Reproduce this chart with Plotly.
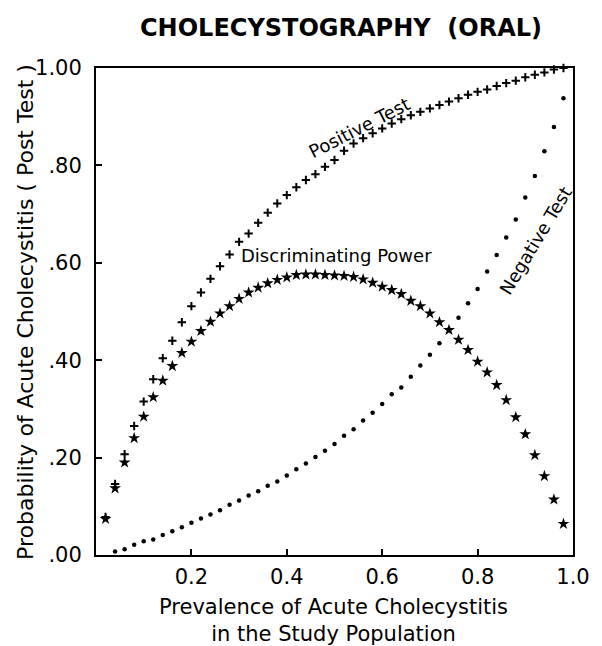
import plotly.graph_objects as go

prevalence = [round(0.02 * i, 2) for i in range(1, 50)]  # 0.02 ... 0.98

positive_test = [0.078, 0.146, 0.207, 0.265, 0.315, 0.361, 0.404, 0.440, 0.478, 0.511,
                 0.539, 0.567, 0.593, 0.617, 0.643, 0.660, 0.682, 0.703, 0.722, 0.739,
                 0.755, 0.770, 0.782, 0.797, 0.811, 0.830, 0.845, 0.856, 0.866, 0.876,
                 0.886, 0.895, 0.903, 0.910, 0.917, 0.924, 0.931, 0.938, 0.945, 0.951,
                 0.956, 0.963, 0.969, 0.974, 0.981, 0.986, 0.991, 0.997, 1.000]

discriminating_power = [0.074, 0.137, 0.190, 0.240, 0.284, 0.324, 0.358, 0.388, 0.415, 0.438,
                        0.460, 0.479, 0.496, 0.511, 0.526, 0.539, 0.549, 0.558, 0.565, 0.570,
                        0.575, 0.576, 0.576, 0.575, 0.574, 0.573, 0.571, 0.566, 0.559, 0.551,
                        0.544, 0.536, 0.522, 0.511, 0.496, 0.478, 0.462, 0.442, 0.421, 0.397,
                        0.375, 0.349, 0.318, 0.283, 0.248, 0.205, 0.162, 0.114, 0.064]

negative_x = [round(0.02 * i, 2) for i in range(2, 50)]  # 0.04 ... 0.98
negative_test = [0.007, 0.012, 0.021, 0.028, 0.032, 0.041, 0.049, 0.057, 0.066,
                 0.075, 0.083, 0.092, 0.103, 0.112, 0.122, 0.131, 0.142, 0.151, 0.163,
                 0.176, 0.188, 0.201, 0.214, 0.228, 0.245, 0.258, 0.276, 0.292, 0.310,
                 0.330, 0.344, 0.366, 0.389, 0.411, 0.435, 0.463, 0.487, 0.517, 0.546,
                 0.582, 0.616, 0.652, 0.689, 0.734, 0.778, 0.829, 0.879, 0.938]

x_tick_vals = [0.2, 0.4, 0.6, 0.8, 1.0]
x_tick_text = ["0.2", "0.4", "0.6", "0.8", "1.0"]
y_tick_vals = [0.0, 0.2, 0.4, 0.6, 0.8, 1.0]
y_tick_text = [".00", ".20", ".40", ".60", ".80", "1.00"]

FONT = "DejaVu Sans"

fig = go.Figure()
fig.add_trace(go.Scatter(x=negative_x, y=negative_test, mode="markers", name="Negative Test",
                         marker=dict(symbol="circle", size=4.5, color="black"), cliponaxis=False))
fig.add_trace(go.Scatter(x=prevalence, y=discriminating_power, mode="markers", name="Discriminating Power",
                         marker=dict(symbol="star", size=9, color="black"), cliponaxis=False))
fig.add_trace(go.Scatter(x=prevalence, y=positive_test, mode="markers", name="Positive Test",
                         marker=dict(symbol="cross-thin", size=6, color="black",
                                     line=dict(width=2, color="black")), cliponaxis=False))

axis_common = dict(ticks="inside", ticklen=6, tickwidth=1.5, tickcolor="black",
                   showgrid=False, zeroline=False, showline=True, linewidth=2,
                   linecolor="black", mirror=True, tickfont=dict(size=21, family=FONT))

fig.update_layout(
    width=602, height=646,
    margin=dict(l=96, r=21, t=68, b=91),
    paper_bgcolor="white", plot_bgcolor="white",
    showlegend=False,
    font=dict(family=FONT, color="black"),
    xaxis=dict(range=[0, 1.0], tickvals=x_tick_vals, ticktext=x_tick_text,
               ticklabelstandoff=2, **axis_common),
    yaxis=dict(range=[0, 1.0], tickvals=y_tick_vals, ticktext=y_tick_text,
               ticklabelstandoff=8, **axis_common),
)

annotations = [
    dict(text="<b>CHOLECYSTOGRAPHY  (ORAL)</b>", xref="paper", yref="paper",
         x=0.513, y=1.082, showarrow=False, font=dict(size=24, family=FONT),
         xanchor="center", yanchor="middle"),
    dict(text="Probability of Acute Cholecystitis ( Post Test )", xref="paper", yref="paper",
         x=-0.148, y=0.5, textangle=-90, showarrow=False, font=dict(size=22, family=FONT),
         xanchor="center", yanchor="middle"),
    dict(text="Prevalence of Acute Cholecystitis<br>in the Study Population", xref="paper",
         yref="paper", x=0.497, y=-0.1355, showarrow=False, font=dict(size=21, family=FONT),
         xanchor="center", yanchor="middle"),
    dict(text="Positive Test", x=0.553, y=0.878, textangle=-27, showarrow=False,
         font=dict(size=18, family=FONT)),
    dict(text="Discriminating Power", x=0.505, y=0.614, showarrow=False,
         font=dict(size=18, family=FONT)),
    dict(text="Negative Test", x=0.922, y=0.645, textangle=-59, showarrow=False,
         font=dict(size=18, family=FONT)),
]
fig.update_layout(annotations=annotations)

fig.write_html("out.html")
